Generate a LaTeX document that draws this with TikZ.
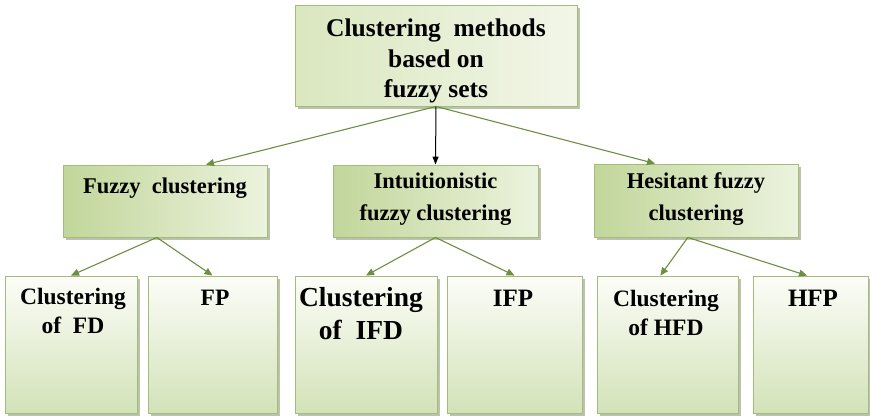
\documentclass[tikz,border=0pt]{standalone}
\usepackage{fontspec}
\setmainfont{Liberation Serif}
\usetikzlibrary{arrows.meta,shadows,calc}

\definecolor{boxedge}{HTML}{A3BC7C}
\definecolor{arrowgreen}{HTML}{6E8E42}
\definecolor{shadowgray}{HTML}{8E9A78}
\definecolor{greendark}{HTML}{C2D69A}
\definecolor{greenlight}{HTML}{ECF3DE}
\definecolor{toplight}{HTML}{F2F6E8}
\definecolor{topdark}{HTML}{DAE7BF}
\definecolor{leafbottom}{HTML}{D3E2B8}
\definecolor{leaftop}{HTML}{FCFDF8}

\tikzset{
  box/.style={draw=boxedge, line width=0.9pt, inner sep=0pt,
    drop shadow={shadow xshift=2.5pt, shadow yshift=-3pt,
      fill=shadowgray, opacity=0.6}},
  rootbox/.style={box, left color=topdark, right color=toplight},
  midbox/.style={box, left color=greendark, right color=greenlight},
  leafbox/.style={box, top color=leaftop, bottom color=leafbottom},
  rootlabel/.style={align=center, inner sep=0pt,
    font=\bfseries\fontsize{25.5}{30.5}\selectfont},
  midlabel/.style={align=center, inner sep=0pt,
    font=\bfseries\fontsize{22.5}{32}\selectfont},
  leaflabel/.style={align=center, inner sep=0pt,
    font=\bfseries\fontsize{23.5}{29}\selectfont},
  link/.style={draw=arrowgreen, line width=1.1pt,
    -{Triangle[length=8pt,width=7pt]}},
  mainlink/.style={draw=black, line width=1pt,
    -{Triangle[length=8pt,width=6pt]}}
}

\begin{document}
\begin{tikzpicture}[x=1pt, y=-1pt]
\useasboundingbox[fill=white] (0,0) rectangle (870,415);

% root
\node[rootbox, minimum width=282pt, minimum height=101pt] (root) at (436,55.5) {};
\node[rootlabel] (roottext) at (436,61) {Clustering~~methods\\based on\\fuzzy sets};

% second level
\node[midbox, minimum width=204pt, minimum height=72pt] (fuzzy) at (165,201) {};
\node[midbox, minimum width=205pt, minimum height=72pt] (intu) at (435.5,201) {};
\node[midbox, minimum width=204pt, minimum height=73pt] (hes) at (696,200.5) {};
\node[midlabel] (fuzzytext) at (165,188) {Fuzzy~~clustering};
\node[midlabel] (intutext) at (435.5,199) {Intuitionistic\\fuzzy clustering};
\node[midlabel] (hestext) at (696,199) {Hesitant fuzzy\\clustering};

% leaves
\node[leafbox, minimum width=132pt, minimum height=137pt] (fd) at (71,344.5) {};
\node[leafbox, minimum width=129pt, minimum height=137pt] (fp) at (212.5,344.5) {};
\node[leafbox, minimum width=142pt, minimum height=137pt] (ifd) at (366,344.5) {};
\node[leafbox, minimum width=135pt, minimum height=137pt] (ifp) at (514.5,344.5) {};
\node[leafbox, minimum width=141pt, minimum height=137pt] (hfd) at (667.5,344.5) {};
\node[leafbox, minimum width=115pt, minimum height=137pt] (hfp) at (810.5,344.5) {};

\node[leaflabel] (fdtext) at (73,311) {Clustering\\of~~FD};
\node[leaflabel] (fptext) at (215,298) {FP};
\node[leaflabel, font=\bfseries\fontsize{27.5}{33}\selectfont] (ifdtext) at (361,313.5) {Clustering\\of~~IFD};
\node[leaflabel, font=\bfseries\fontsize{25}{30}\selectfont] (ifptext) at (513,298) {IFP};
\node[leaflabel] (hfdtext) at (666,312.5) {Clustering\\of HFD};
\node[leaflabel, font=\bfseries\fontsize{25}{30}\selectfont] (hfptext) at (813,298) {HFP};

% connectors
\draw[link] (root.south) -- ($(fuzzy.north west)!0.7!(fuzzy.north east)$);
\draw[mainlink] (root.south) -- (intu.north);
\draw[link] (root.south) -- ($(hes.north west)!0.3!(hes.north east)$);

\draw[link] ($(fuzzy.south west)!0.46!(fuzzy.south east)$) -- (fd.north);
\draw[link] ($(fuzzy.south west)!0.46!(fuzzy.south east)$) -- (fp.north);
\draw[link] (intu.south) -- (ifd.north);
\draw[link] (intu.south) -- (ifp.north);
\draw[link] ($(hes.south west)!0.46!(hes.south east)$) -- ($(hfd.north west)!0.45!(hfd.north east)$);
\draw[link] ($(hes.south west)!0.46!(hes.south east)$) -- ($(hfp.north west)!0.47!(hfp.north east)$);
\end{tikzpicture}
\end{document}
